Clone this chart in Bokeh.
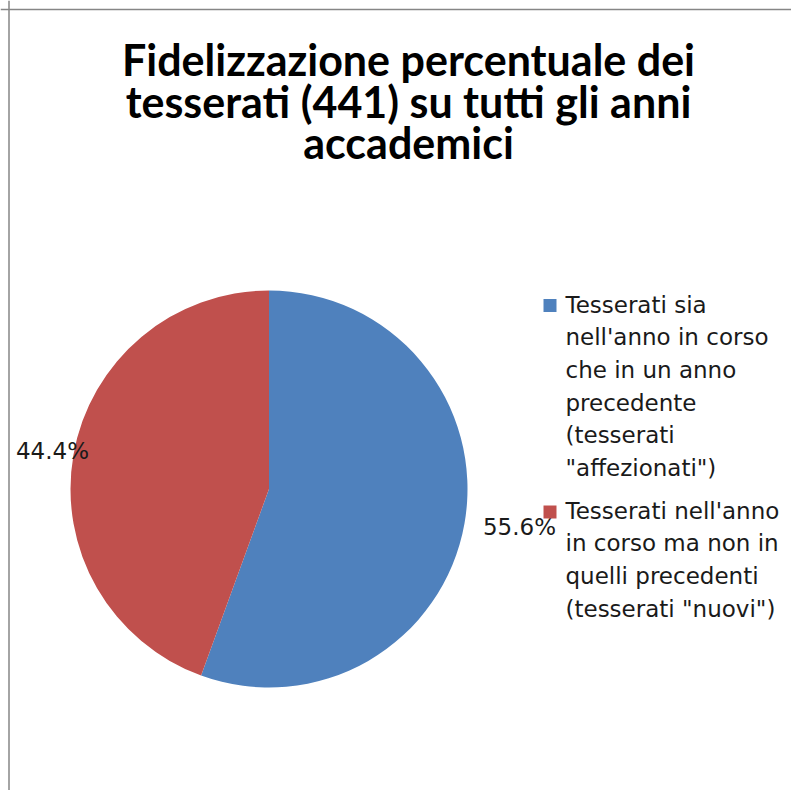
import math
import textwrap
from bokeh.plotting import figure
from bokeh.models import Range1d, ColumnDataSource, Span
from bokeh.core.properties import value
from bokeh.embed import file_html
from bokeh.resources import INLINE

# ---- data ----
title_lines = ["Fidelizzazione percentuale dei",
               "tesserati (441) su tutti gli anni",
               "accademici"]
categories = ["Tesserati sia nell'anno in corso che in un anno precedente (tesserati \"affezionati\")",
              "Tesserati nell'anno in corso ma non in quelli precedenti (tesserati \"nuovi\")"]
counts = [245, 196]
colors = ["#4F81BD", "#C0504D"]

# ---- layout ----
W, H = 791, 790
p = figure(width=W, height=H, x_range=Range1d(0, W), y_range=Range1d(0, H),
           min_border=0, output_backend="svg", toolbar_location=None,
           x_axis_location=None, y_axis_location=None)
p.grid.visible = False
p.outline_line_color = None
p.background_fill_color = "white"
p.border_fill_color = "white"

def py(img_y):
    # image pixel y (from top) -> data y
    return H - img_y

def px(img_x):
    return img_x

# chart border (left and top visible)
p.add_layout(Span(location=px(8.5), dimension="height", line_color="#868686", line_width=1.5))
p.add_layout(Span(location=py(9.0), dimension="width", line_color="#868686", line_width=1.5))

# pie
cx, cy, r = px(268.5), py(488.5), 198.5
total = sum(counts)
fracs = [c / total for c in counts]
starts, ends, mids = [], [], []
cum = 0.0
for f in fracs:
    a0 = math.pi / 2 - 2 * math.pi * cum
    a1 = math.pi / 2 - 2 * math.pi * (cum + f)
    starts.append(a0)
    ends.append(a1)
    mids.append((a0 + a1) / 2)
    cum += f

src = ColumnDataSource(dict(start=starts, end=ends, color=colors))
p.wedge(x=cx, y=cy, radius=r, start_angle="start", end_angle="end",
        direction="clock", fill_color="color", line_color=None, source=src)

# percent labels (outside end, offset from the slice edge along its mid angle)
label_offset = [(55, -4), (-21, 4)]
lx = [cx + r * math.cos(m) + o[0] for m, o in zip(mids, label_offset)]
ly = [cy + r * math.sin(m) + o[1] for m, o in zip(mids, label_offset)]
ltxt = ["%.1f%%" % (f * 100) for f in fracs]
p.text(x=lx, y=ly, text=ltxt, text_align="center", text_baseline="middle",
       text_font=value("DejaVu Sans"), text_font_size="23px", text_color="#1a1a1a")

# title
tb = [59, 101, 142]
p.text(x=[px(408)] * 3, y=[py(b) for b in tb], text=title_lines,
       text_align="center", text_baseline="alphabetic",
       text_font=value("Lato"), text_font_style="bold", text_font_size="43px",
       text_color="#000000")

# legend
leg_first_baseline = [304, 510]
line_h = 32.7
sq_x, sq_size = px(549.5), 13
text_x = px(565)
tx, ty, tt = [], [], []
for cat, b0 in zip(categories, leg_first_baseline):
    for i, line in enumerate(textwrap.wrap(cat, 19)):
        tx.append(text_x)
        ty.append(py(b0 + i * line_h))
        tt.append(line)
p.rect(x=[sq_x] * 2, y=[py(305), py(511.5)], width=sq_size, height=sq_size,
       fill_color=colors, line_color=None)
p.text(x=tx, y=ty, text=tt, text_align="left", text_baseline="alphabetic",
       text_font=value("DejaVu Sans"), text_font_size="23px", text_color="#1a1a1a")

open("out.html", "w").write(file_html(p, INLINE))
